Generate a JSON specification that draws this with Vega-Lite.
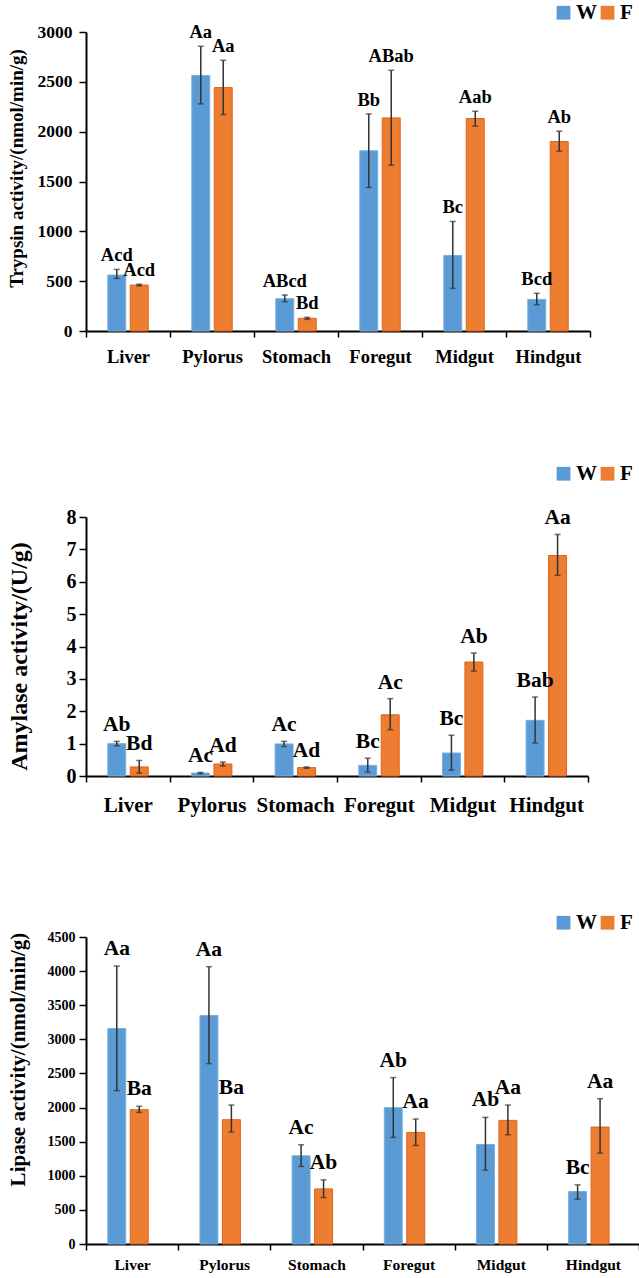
{
  "$schema": "https://vega.github.io/schema/vega-lite/v6.json",
  "padding": {"left": 6, "top": 2, "right": 0, "bottom": 0},
  "spacing": 97,
  "resolve": {
    "scale": {"color": "independent", "stroke": "independent"},
    "legend": {"color": "independent", "stroke": "independent"}
  },
  "config": {
    "font": "Liberation Serif",
    "view": {"stroke": null},
    "axis": {
      "grid": false,
      "labelFont": "Liberation Serif",
      "labelFontWeight": "bold",
      "labelColor": "#000000",
      "titleFont": "Liberation Serif",
      "titleFontWeight": "bold",
      "titleColor": "#000000",
      "domainColor": "#000000",
      "domainWidth": 2,
      "tickColor": "#000000",
      "tickWidth": 1.5
    },
    "legend": {
      "orient": "none",
      "direction": "horizontal",
      "padding": 0,
      "symbolType": "square",
      "symbolSize": 190,
      "symbolStrokeWidth": 0,
      "labelFont": "Liberation Serif",
      "labelFontWeight": "bold",
      "labelFontSize": 21,
      "labelColor": "#000000",
      "labelOffset": 2,
      "columnPadding": 0
    }
  },
  "datasets": {
    "enzymes": [
      {"panel": "trypsin", "organ": "Liver", "group": "W", "value": 561, "lo": 528, "hi": 618, "label": "Acd"},
      {"panel": "trypsin", "organ": "Liver", "group": "F", "value": 461, "lo": 453, "hi": 469, "label": "Acd"},
      {"panel": "trypsin", "organ": "Pylorus", "group": "W", "value": 2563, "lo": 2279, "hi": 2857, "label": "Aa"},
      {"panel": "trypsin", "organ": "Pylorus", "group": "F", "value": 2442, "lo": 2172, "hi": 2716, "label": "Aa"},
      {"panel": "trypsin", "organ": "Stomach", "group": "W", "value": 324, "lo": 294, "hi": 361, "label": "ABcd"},
      {"panel": "trypsin", "organ": "Stomach", "group": "F", "value": 127, "lo": 117, "hi": 137, "label": "Bd"},
      {"panel": "trypsin", "organ": "Foregut", "group": "W", "value": 1808, "lo": 1440, "hi": 2178, "label": "Bb"},
      {"panel": "trypsin", "organ": "Foregut", "group": "F", "value": 2138, "lo": 1664, "hi": 2616, "label": "ABab"},
      {"panel": "trypsin", "organ": "Midgut", "group": "W", "value": 758, "lo": 428, "hi": 1099, "label": "Bc"},
      {"panel": "trypsin", "organ": "Midgut", "group": "F", "value": 2132, "lo": 2055, "hi": 2205, "label": "Aab"},
      {"panel": "trypsin", "organ": "Hindgut", "group": "W", "value": 317, "lo": 264, "hi": 378, "label": "Bcd"},
      {"panel": "trypsin", "organ": "Hindgut", "group": "F", "value": 1901, "lo": 1804, "hi": 2005, "label": "Ab"},

      {"panel": "amylase", "organ": "Liver", "group": "W", "value": 1.0, "lo": 0.93, "hi": 1.07, "label": "Ab"},
      {"panel": "amylase", "organ": "Liver", "group": "F", "value": 0.28, "lo": 0.09, "hi": 0.48, "label": "Bd"},
      {"panel": "amylase", "organ": "Pylorus", "group": "W", "value": 0.09, "lo": 0.07, "hi": 0.11, "label": "Ac"},
      {"panel": "amylase", "organ": "Pylorus", "group": "F", "value": 0.37, "lo": 0.31, "hi": 0.43, "label": "Ad"},
      {"panel": "amylase", "organ": "Stomach", "group": "W", "value": 0.99, "lo": 0.91, "hi": 1.07, "label": "Ac"},
      {"panel": "amylase", "organ": "Stomach", "group": "F", "value": 0.26, "lo": 0.24, "hi": 0.28, "label": "Ad"},
      {"panel": "amylase", "organ": "Foregut", "group": "W", "value": 0.33, "lo": 0.12, "hi": 0.55, "label": "Bc"},
      {"panel": "amylase", "organ": "Foregut", "group": "F", "value": 1.89, "lo": 1.43, "hi": 2.39, "label": "Ac"},
      {"panel": "amylase", "organ": "Midgut", "group": "W", "value": 0.71, "lo": 0.18, "hi": 1.26, "label": "Bc"},
      {"panel": "amylase", "organ": "Midgut", "group": "F", "value": 3.52, "lo": 3.24, "hi": 3.8, "label": "Ab"},
      {"panel": "amylase", "organ": "Hindgut", "group": "W", "value": 1.72, "lo": 1.02, "hi": 2.44, "label": "Bab"},
      {"panel": "amylase", "organ": "Hindgut", "group": "F", "value": 6.81, "lo": 6.2, "hi": 7.46, "label": "Aa"},

      {"panel": "lipase", "organ": "Liver", "group": "W", "value": 3159, "lo": 2248, "hi": 4074, "label": "Aa"},
      {"panel": "lipase", "organ": "Liver", "group": "F", "value": 1969, "lo": 1929, "hi": 2018, "label": "Ba"},
      {"panel": "lipase", "organ": "Pylorus", "group": "W", "value": 3350, "lo": 2644, "hi": 4065, "label": "Aa"},
      {"panel": "lipase", "organ": "Pylorus", "group": "F", "value": 1822, "lo": 1640, "hi": 2037, "label": "Ba"},
      {"panel": "lipase", "organ": "Stomach", "group": "W", "value": 1293, "lo": 1136, "hi": 1454, "label": "Ac"},
      {"panel": "lipase", "organ": "Stomach", "group": "F", "value": 808, "lo": 681, "hi": 940, "label": "Ab"},
      {"panel": "lipase", "organ": "Foregut", "group": "W", "value": 1998, "lo": 1562, "hi": 2439, "label": "Ab"},
      {"panel": "lipase", "organ": "Foregut", "group": "F", "value": 1636, "lo": 1445, "hi": 1832, "label": "Aa"},
      {"panel": "lipase", "organ": "Midgut", "group": "W", "value": 1459, "lo": 1082, "hi": 1856, "label": "Ab"},
      {"panel": "lipase", "organ": "Midgut", "group": "F", "value": 1812, "lo": 1601, "hi": 2037, "label": "Aa"},
      {"panel": "lipase", "organ": "Hindgut", "group": "W", "value": 769, "lo": 656, "hi": 867, "label": "Bc"},
      {"panel": "lipase", "organ": "Hindgut", "group": "F", "value": 1714, "lo": 1332, "hi": 2130, "label": "Aa"}
    ]
  },
  "vconcat": [
    {
      "width": 504,
      "height": 299,
      "data": {"name": "enzymes"},
      "transform": [{"filter": "datum.panel === 'trypsin'"}],
      "encoding": {
        "x": {
          "field": "organ", "type": "nominal",
          "sort": ["Liver", "Pylorus", "Stomach", "Foregut", "Midgut", "Hindgut"],
          "scale": {"paddingInner": 0, "paddingOuter": 0},
          "axis": {"title": null, "labelAngle": 0, "labelFontSize": 18.5, "tickBand": "extent", "tickSize": 6, "labelPadding": 10}
        },
        "xOffset": {"field": "group", "sort": ["W", "F"], "scale": {"paddingInner": 0.2, "paddingOuter": 0.97}}
      },
      "layer": [
        {
          "mark": {"type": "bar", "strokeWidth": 1},
          "encoding": {
            "y": {
              "field": "value", "type": "quantitative",
              "scale": {"domain": [0, 3000]},
              "axis": {"title": "Trypsin activity/(nmol/min/g)", "values": [0, 500, 1000, 1500, 2000, 2500, 3000], "format": "d", "labelFontSize": 17.5, "titleFontSize": 19, "tickSize": 7, "labelPadding": 7, "titlePadding": 11, "titleY": 136}
            },
            "color": {
              "field": "group", "type": "nominal", "sort": ["W", "F"],
              "scale": {"domain": ["W", "F"], "range": ["#5B9BD5", "#ED7D31"]},
              "legend": {"title": null, "legendX": 467, "legendY": -30}
            },
            "stroke": {
              "field": "group", "type": "nominal",
              "scale": {"domain": ["W", "F"], "range": ["#78AEE0", "#E0621C"]},
              "legend": null
            }
          }
        },
        {
          "mark": {"type": "rule", "color": "#333333", "strokeWidth": 1.5},
          "encoding": {
            "y": {"field": "lo", "type": "quantitative", "axis": {"title": "Trypsin activity/(nmol/min/g)", "values": [0, 500, 1000, 1500, 2000, 2500, 3000], "format": "d", "labelFontSize": 17.5, "titleFontSize": 19, "tickSize": 7, "labelPadding": 7, "titlePadding": 11, "titleY": 136}},
            "y2": {"field": "hi"}
          }
        },
        {
          "mark": {"type": "tick", "color": "#333333", "size": 6, "thickness": 1.5},
          "encoding": {"y": {"field": "lo", "type": "quantitative", "axis": {"title": "Trypsin activity/(nmol/min/g)", "values": [0, 500, 1000, 1500, 2000, 2500, 3000], "format": "d", "labelFontSize": 17.5, "titleFontSize": 19, "tickSize": 7, "labelPadding": 7, "titlePadding": 11, "titleY": 136}}}
        },
        {
          "mark": {"type": "tick", "color": "#333333", "size": 6, "thickness": 1.5},
          "encoding": {"y": {"field": "hi", "type": "quantitative", "axis": {"title": "Trypsin activity/(nmol/min/g)", "values": [0, 500, 1000, 1500, 2000, 2500, 3000], "format": "d", "labelFontSize": 17.5, "titleFontSize": 19, "tickSize": 7, "labelPadding": 7, "titlePadding": 11, "titleY": 136}}}
        },
        {
          "mark": {"type": "text", "baseline": "bottom", "dy": -4, "fontSize": 18.5, "fontWeight": "bold", "font": "Liberation Serif", "color": "#000000"},
          "encoding": {
            "y": {"field": "hi", "type": "quantitative", "axis": {"title": "Trypsin activity/(nmol/min/g)", "values": [0, 500, 1000, 1500, 2000, 2500, 3000], "format": "d", "labelFontSize": 17.5, "titleFontSize": 19, "tickSize": 7, "labelPadding": 7, "titlePadding": 11, "titleY": 136}},
            "text": {"field": "label"}
          }
        }
      ]
    },
    {
      "width": 502,
      "height": 259,
      "data": {"name": "enzymes"},
      "transform": [{"filter": "datum.panel === 'amylase'"}],
      "encoding": {
        "x": {
          "field": "organ", "type": "nominal",
          "sort": ["Liver", "Pylorus", "Stomach", "Foregut", "Midgut", "Hindgut"],
          "scale": {"paddingInner": 0, "paddingOuter": 0},
          "axis": {"title": null, "labelAngle": 0, "labelFontSize": 21, "tickBand": "extent", "tickSize": 6, "labelPadding": 12}
        },
        "xOffset": {"field": "group", "sort": ["W", "F"], "scale": {"paddingInner": 0.2, "paddingOuter": 0.97}}
      },
      "layer": [
        {
          "mark": {"type": "bar", "strokeWidth": 1},
          "encoding": {
            "y": {
              "field": "value", "type": "quantitative",
              "scale": {"domain": [0, 8]},
              "axis": {"title": "Amylase activity/(U/g)", "values": [0, 1, 2, 3, 4, 5, 6, 7, 8], "format": "d", "labelFontSize": 20, "titleFontSize": 24, "tickSize": 7, "labelPadding": 3, "titlePadding": 35, "titleY": 139}
            },
            "color": {
              "field": "group", "type": "nominal", "sort": ["W", "F"],
              "scale": {"domain": ["W", "F"], "range": ["#5B9BD5", "#ED7D31"]},
              "legend": {"title": null, "legendX": 467, "legendY": -54}
            },
            "stroke": {
              "field": "group", "type": "nominal",
              "scale": {"domain": ["W", "F"], "range": ["#78AEE0", "#E0621C"]},
              "legend": null
            }
          }
        },
        {
          "mark": {"type": "rule", "color": "#333333", "strokeWidth": 1.5},
          "encoding": {
            "y": {"field": "lo", "type": "quantitative", "axis": {"title": "Amylase activity/(U/g)", "values": [0, 1, 2, 3, 4, 5, 6, 7, 8], "format": "d", "labelFontSize": 20, "titleFontSize": 24, "tickSize": 7, "labelPadding": 3, "titlePadding": 35, "titleY": 139}},
            "y2": {"field": "hi"}
          }
        },
        {
          "mark": {"type": "tick", "color": "#333333", "size": 6, "thickness": 1.5},
          "encoding": {"y": {"field": "lo", "type": "quantitative", "axis": {"title": "Amylase activity/(U/g)", "values": [0, 1, 2, 3, 4, 5, 6, 7, 8], "format": "d", "labelFontSize": 20, "titleFontSize": 24, "tickSize": 7, "labelPadding": 3, "titlePadding": 35, "titleY": 139}}}
        },
        {
          "mark": {"type": "tick", "color": "#333333", "size": 6, "thickness": 1.5},
          "encoding": {"y": {"field": "hi", "type": "quantitative", "axis": {"title": "Amylase activity/(U/g)", "values": [0, 1, 2, 3, 4, 5, 6, 7, 8], "format": "d", "labelFontSize": 20, "titleFontSize": 24, "tickSize": 7, "labelPadding": 3, "titlePadding": 35, "titleY": 139}}}
        },
        {
          "mark": {"type": "text", "baseline": "bottom", "dy": -5, "fontSize": 21.5, "fontWeight": "bold", "font": "Liberation Serif", "color": "#000000"},
          "encoding": {
            "y": {"field": "hi", "type": "quantitative", "axis": {"title": "Amylase activity/(U/g)", "values": [0, 1, 2, 3, 4, 5, 6, 7, 8], "format": "d", "labelFontSize": 20, "titleFontSize": 24, "tickSize": 7, "labelPadding": 3, "titlePadding": 35, "titleY": 139}},
            "text": {"field": "label"}
          }
        }
      ]
    },
    {
      "width": 553,
      "height": 307,
      "data": {"name": "enzymes"},
      "transform": [{"filter": "datum.panel === 'lipase'"}],
      "encoding": {
        "x": {
          "field": "organ", "type": "nominal",
          "sort": ["Liver", "Pylorus", "Stomach", "Foregut", "Midgut", "Hindgut"],
          "scale": {"paddingInner": 0, "paddingOuter": 0},
          "axis": {"title": null, "labelAngle": 0, "labelFontSize": 15.5, "tickBand": "extent", "tickSize": 6, "labelPadding": 7}
        },
        "xOffset": {"field": "group", "sort": ["W", "F"], "scale": {"paddingInner": 0.22, "paddingOuter": 0.99}}
      },
      "layer": [
        {
          "mark": {"type": "bar", "strokeWidth": 1},
          "encoding": {
            "y": {
              "field": "value", "type": "quantitative",
              "scale": {"domain": [0, 4500]},
              "axis": {"title": "Lipase activity/(nmol/min/g)", "values": [0, 500, 1000, 1500, 2000, 2500, 3000, 3500, 4000, 4500], "format": "d", "labelFontSize": 14, "titleFontSize": 21, "tickSize": 7, "labelPadding": 4, "titlePadding": 19, "titleY": 122}
            },
            "color": {
              "field": "group", "type": "nominal", "sort": ["W", "F"],
              "scale": {"domain": ["W", "F"], "range": ["#5B9BD5", "#ED7D31"]},
              "legend": {"title": null, "legendX": 467, "legendY": -25}
            },
            "stroke": {
              "field": "group", "type": "nominal",
              "scale": {"domain": ["W", "F"], "range": ["#78AEE0", "#E0621C"]},
              "legend": null
            }
          }
        },
        {
          "mark": {"type": "rule", "color": "#333333", "strokeWidth": 1.5},
          "encoding": {
            "y": {"field": "lo", "type": "quantitative", "axis": {"title": "Lipase activity/(nmol/min/g)", "values": [0, 500, 1000, 1500, 2000, 2500, 3000, 3500, 4000, 4500], "format": "d", "labelFontSize": 14, "titleFontSize": 21, "tickSize": 7, "labelPadding": 4, "titlePadding": 19, "titleY": 122}},
            "y2": {"field": "hi"}
          }
        },
        {
          "mark": {"type": "tick", "color": "#333333", "size": 6, "thickness": 1.5},
          "encoding": {"y": {"field": "lo", "type": "quantitative", "axis": {"title": "Lipase activity/(nmol/min/g)", "values": [0, 500, 1000, 1500, 2000, 2500, 3000, 3500, 4000, 4500], "format": "d", "labelFontSize": 14, "titleFontSize": 21, "tickSize": 7, "labelPadding": 4, "titlePadding": 19, "titleY": 122}}}
        },
        {
          "mark": {"type": "tick", "color": "#333333", "size": 6, "thickness": 1.5},
          "encoding": {"y": {"field": "hi", "type": "quantitative", "axis": {"title": "Lipase activity/(nmol/min/g)", "values": [0, 500, 1000, 1500, 2000, 2500, 3000, 3500, 4000, 4500], "format": "d", "labelFontSize": 14, "titleFontSize": 21, "tickSize": 7, "labelPadding": 4, "titlePadding": 19, "titleY": 122}}}
        },
        {
          "mark": {"type": "text", "baseline": "bottom", "dy": -6, "fontSize": 21.5, "fontWeight": "bold", "font": "Liberation Serif", "color": "#000000"},
          "encoding": {
            "y": {"field": "hi", "type": "quantitative", "axis": {"title": "Lipase activity/(nmol/min/g)", "values": [0, 500, 1000, 1500, 2000, 2500, 3000, 3500, 4000, 4500], "format": "d", "labelFontSize": 14, "titleFontSize": 21, "tickSize": 7, "labelPadding": 4, "titlePadding": 19, "titleY": 122}},
            "text": {"field": "label"}
          }
        }
      ]
    }
  ]
}
